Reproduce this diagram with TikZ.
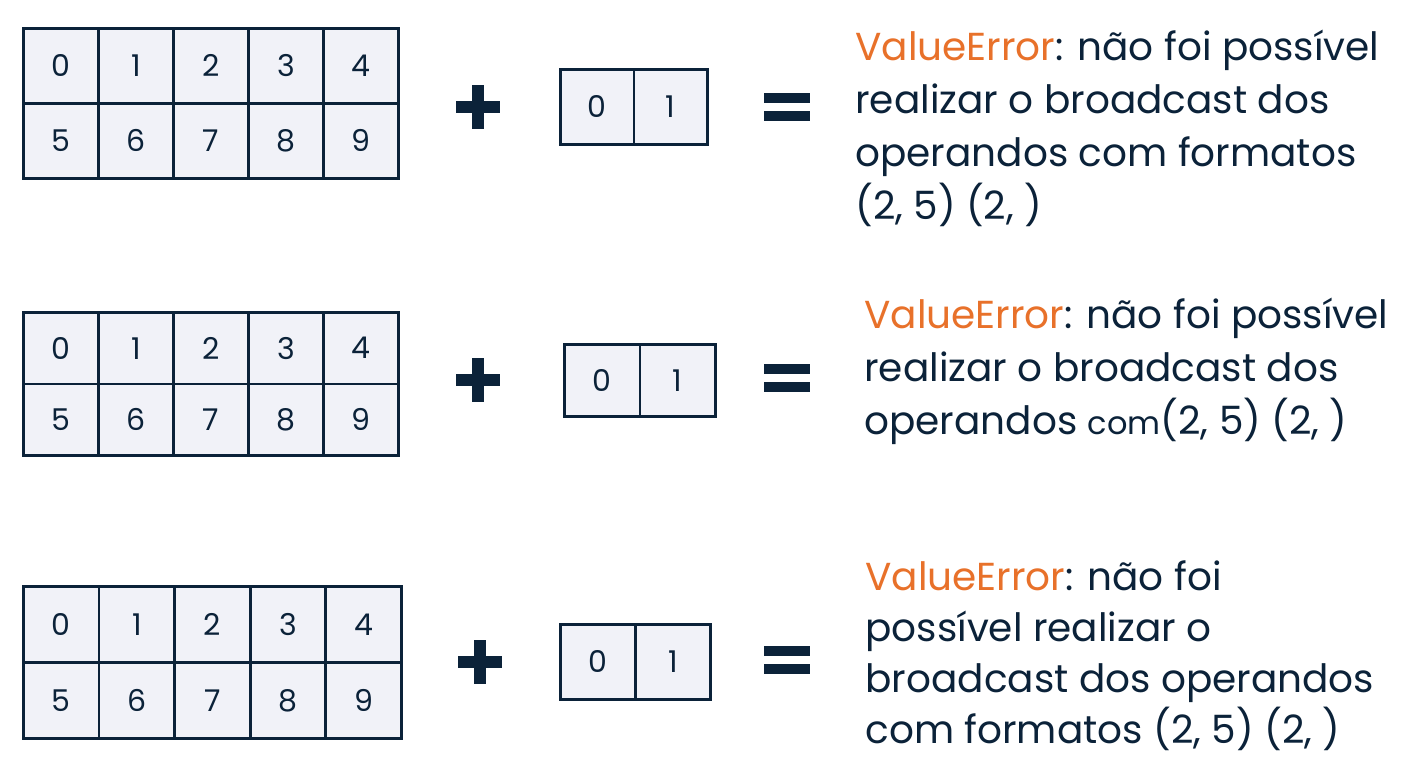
\documentclass[tikz,border=0pt]{standalone}
\usepackage{fontspec}
\setmainfont{Poppins}
\usetikzlibrary{positioning}
\definecolor{navy}{HTML}{0B2239}
\definecolor{cellbg}{HTML}{F1F2F8}
\definecolor{errorange}{HTML}{E8712A}
\tikzset{
  cell/.style={draw=navy,line width=1.4pt,fill=cellbg,text=navy,inner sep=0pt,font=\fontsize{15}{15}\selectfont},
  bar/.style={fill=navy,draw=none},
  msg/.style={anchor=north west,align=left,text=navy,inner sep=0pt,font=\fontsize{19.5}{26.5}\selectfont},
}
% big 2x5 array: #1 name, #2 left x, #3 top y, #4 cell w, #5 cell h
\newcommand{\bigarray}[5]{
  \foreach \i in {0,...,4}{
    \node[cell,minimum width=#4*0.5pt,minimum height=#5*0.5pt,anchor=north west]
      (#1-\i) at (#2+\i*#4,#3) {\i};
    \pgfmathtruncatemacro{\j}{\i+5}
    \node[cell,minimum width=#4*0.5pt,minimum height=#5*0.5pt,anchor=north west]
      (#1-\j) at (#2+\i*#4,#3+#5) {\j};
  }
}
\newcommand{\smallarray}[5]{
  \foreach \i in {0,1}{
    \node[cell,minimum width=#4*0.5pt,minimum height=#5*0.5pt,anchor=north west]
      (#1-\i) at (#2+\i*#4,#3) {\i};
  }
}
\newcommand{\plussign}[3]{
  \fill[bar] (#2-22,#3-6) rectangle (#2+22,#3+6);
  \fill[bar] (#2-6,#3-22) rectangle (#2+6,#3+22);
  \coordinate (#1) at (#2,#3);
}
\newcommand{\eqsign}[3]{
  \fill[bar] (#2-23,#3-14) rectangle (#2+23,#3-4);
  \fill[bar] (#2-23,#3+4) rectangle (#2+23,#3+14);
  \coordinate (#1) at (#2,#3);
}
\begin{document}
\begin{tikzpicture}[x=0.5pt,y=-0.5pt]
  \useasboundingbox (0,0) rectangle (1408,768);

  % first row
  \bigarray{a1}{22}{27}{75}{75}
  \plussign{p1}{478}{107}
  \smallarray{b1}{559}{68}{73.5}{75}
  \eqsign{e1}{787}{107}
  \node[msg] (m1) at (855,30) {\textcolor{errorange}{ValueError}: não foi possível\\realizar o broadcast dos\\operandos com formatos\\(2, 5) (2, )};

  % second row
  \bigarray{a2}{22}{311}{75}{71.5}
  \plussign{p2}{478}{380}
  \smallarray{b2}{563}{343}{75.5}{72}
  \eqsign{e2}{787}{378}
  \node[msg] (m2) at (864,298) {\textcolor{errorange}{ValueError}: não foi possível\\realizar o broadcast dos\\operandos {\fontsize{16}{16}\selectfont com}(2, 5) (2, )};

  % third row
  \bigarray{a3}{22}{585}{75.6}{76}
  \plussign{p3}{480}{662}
  \smallarray{b3}{559}{623}{75}{75}
  \eqsign{e3}{787}{660}
  \node[msg,font=\fontsize{19.5}{25.5}\selectfont] (m3) at (865,560) {\textcolor{errorange}{ValueError}: não foi\\possível realizar o\\broadcast dos operandos\\com formatos (2, 5) (2, )};
\end{tikzpicture}
\end{document}
